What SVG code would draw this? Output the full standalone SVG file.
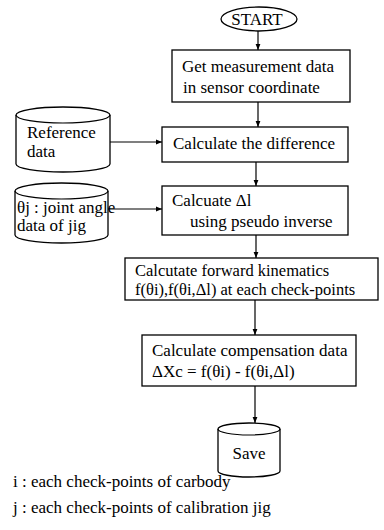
<svg xmlns="http://www.w3.org/2000/svg" width="384" height="530" viewBox="0 0 384 530">
<defs>
<style>
.n{fill:#fff;stroke:#000;stroke-width:1.3}
.t{font-family:"Liberation Serif","Times New Roman",serif;font-size:17px;fill:#000}
.s{font-size:16.5px}
.c{stroke:#000;stroke-width:1.2;fill:none}
</style>
<marker id="ah" viewBox="0 0 10 10" refX="10" refY="5" markerWidth="6" markerHeight="6" orient="auto" markerUnits="userSpaceOnUse">
<path d="M0,1 L10,5 L0,9 Z" fill="#000"/>
</marker>
</defs>
<rect width="384" height="530" fill="#fff"/>
<g id="connectors">
<line class="c" x1="258" y1="31" x2="258" y2="50" marker-end="url(#ah)"/>
<line class="c" x1="258" y1="102" x2="258" y2="127" marker-end="url(#ah)"/>
<line class="c" x1="110" y1="142" x2="162" y2="142" marker-end="url(#ah)"/>
<line class="c" x1="256" y1="162" x2="256" y2="186" marker-end="url(#ah)"/>
<line class="c" x1="108" y1="209" x2="162" y2="209" marker-end="url(#ah)"/>
<line class="c" x1="256" y1="235" x2="256" y2="258" marker-end="url(#ah)"/>
<line class="c" x1="255" y1="300" x2="255" y2="335" marker-end="url(#ah)"/>
<line class="c" x1="255" y1="386" x2="255" y2="423" marker-end="url(#ah)"/>
</g>
<g id="start">
<ellipse class="n" cx="259" cy="19" rx="38" ry="12"/>
<text class="t" x="257" y="25" text-anchor="middle" font-size="16">START</text>
</g>
<g id="get-data">
<rect class="n" x="172" y="50" width="178" height="52"/>
<text class="t" x="182" y="72">Get measurement data</text>
<text class="t" x="183" y="93">in sensor coordinate</text>
</g>
<g id="reference">
<path class="n" d="M16,115 A47,8 0 0 1 110,115 V164 A47,8 0 0 1 16,164 Z"/>
<path class="c" stroke-width="1.3" d="M16,115 A47,8 0 0 0 110,115"/>
<text class="t" x="27" y="138">Reference</text>
<text class="t" x="27" y="157">data</text>
</g>
<g id="difference">
<rect class="n" x="162" y="127" width="186" height="35"/>
<text class="t" x="173" y="149">Calculate the difference</text>
</g>
<g id="joint-angle">
<path class="n" d="M15,191 A46.5,8 0 0 1 108,191 V235 A46.5,8 0 0 1 15,235 Z"/>
<path class="c" stroke-width="1.3" d="M15,191 A46.5,8 0 0 0 108,191"/>
<text class="t" x="17" y="213">θj : joint angle</text>
<text class="t" x="17" y="231">data of jig</text>
</g>
<g id="delta-l">
<rect class="n" x="162" y="186" width="186" height="49"/>
<text class="t" x="172" y="206">Calcuate Δl</text>
<text class="t" x="190" y="227">using pseudo inverse</text>
</g>
<g id="forward">
<rect class="n" x="125" y="258" width="253" height="42"/>
<text class="t s" x="135" y="276">Calcutate forward kinematics</text>
<text class="t s" x="135" y="295">f(θi),f(θi,Δl) at each check-points</text>
</g>
<g id="compensation">
<rect class="n" x="142" y="335" width="214" height="51"/>
<text class="t" x="152" y="356">Calculate compensation data</text>
<text class="t" x="152" y="377">ΔXc = f(θi) - f(θi,Δl)</text>
</g>
<g id="save">
<path class="n" d="M218,429 A31,6 0 0 1 280,429 V471 A31,6 0 0 1 218,471 Z"/>
<path class="c" stroke-width="1.3" d="M218,429 A31,6 0 0 0 280,429"/>
<text class="t" x="249" y="459" text-anchor="middle">Save</text>
</g>
<g id="notes">
<text class="t" x="13" y="487">i : each check-points of carbody</text>
<text class="t" x="13" y="513">j : each check-points of calibration jig</text>
</g>
</svg>
